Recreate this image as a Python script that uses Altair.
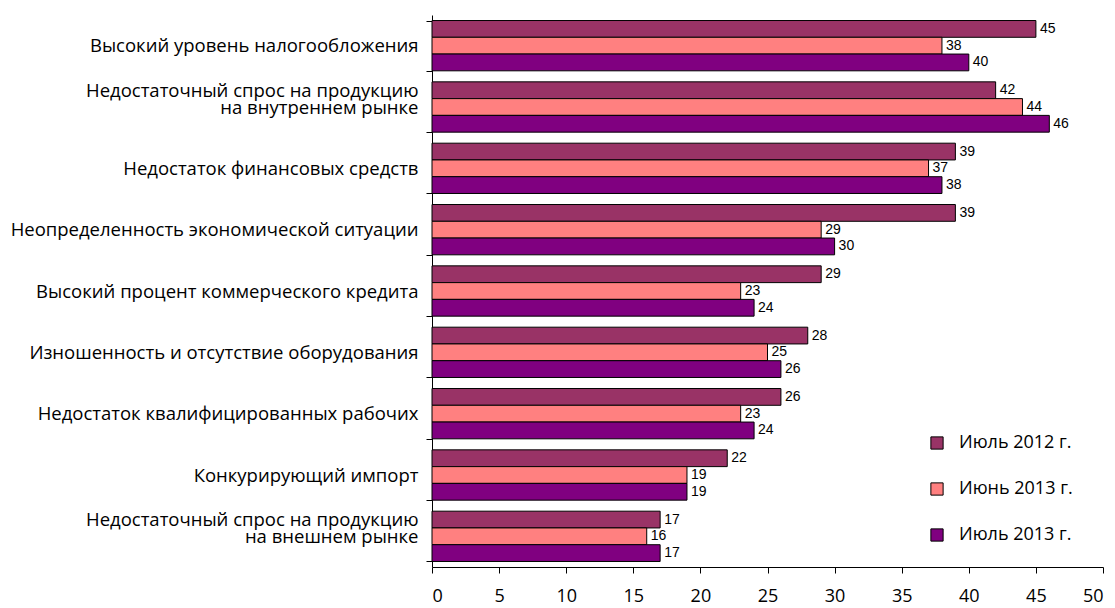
import altair as alt
import pandas as pd

categories = [
    "Высокий уровень налогообложения",
    "Недостаточный спрос на продукцию|на внутреннем рынке",
    "Недостаток финансовых средств",
    "Неопределенность экономической ситуации",
    "Высокий процент коммерческого кредита",
    "Изношенность и отсутствие оборудования",
    "Недостаток квалифицированных рабочих",
    "Конкурирующий импорт",
    "Недостаточный спрос на продукцию|на внешнем рынке",
]
series = ["Июль 2012 г.", "Июнь 2013 г.", "Июль 2013 г."]
v_jul2012 = [45, 42, 39, 39, 29, 28, 26, 22, 17]
v_jun2013 = [38, 44, 37, 29, 23, 25, 23, 19, 16]
v_jul2013 = [40, 46, 38, 30, 24, 26, 24, 19, 17]
colors = ["#993366", "#FF8080", "#800080"]

rows = []
for s, vals in zip(series, [v_jul2012, v_jun2013, v_jul2013]):
    for c, v in zip(categories, vals):
        rows.append({"cat": c, "series": s, "value": v})
df = pd.DataFrame(rows)

FONT = "Open Sans"
NB = "\u00a0"

label_expr = ("indexof(datum.label, '|') >= 0 ? "
              "[split(datum.label, '|')[0], '" + NB + "', split(datum.label, '|')[1]] : "
              "['" + NB + "', datum.label]")

y_enc = alt.Y("cat:N", sort=categories, title=None,
              scale=alt.Scale(paddingInner=0.18, paddingOuter=0.09),
              axis=alt.Axis(labelExpr=label_expr, labelFontSize=18.5,
                            labelFont=FONT, labelColor="#000", labelPadding=8,
                            labelOffset=-16.5, labelLineHeight=16.5,
                            tickBand="extent", tickSize=6, tickColor="#000",
                            domainColor="#000", labelLimit=500))
x_enc = alt.X("value:Q", title=None,
              scale=alt.Scale(domain=[0, 50], nice=False),
              axis=alt.Axis(values=list(range(0, 51, 5)), grid=False, labelFontSize=18,
                            labelFont=FONT, labelColor="#000", labelPadding=14,
                            tickSize=6, tickColor="#000", domainColor="#000"))

base = alt.Chart(df).encode(
    y=y_enc,
    yOffset=alt.YOffset("series:N", sort=series),
)

bars = base.mark_bar(stroke="#000", strokeWidth=1).encode(
    x=x_enc,
    color=alt.Color("series:N", sort=series,
                    scale=alt.Scale(domain=series, range=colors),
                    legend=alt.Legend(title=None, orient="none", legendX=496, legendY=419,
                                      symbolType="square", symbolSize=150,
                                      symbolStrokeColor="#000", symbolStrokeWidth=1,
                                      labelFontSize=18, labelFont=FONT, labelColor="#000",
                                      rowPadding=28, symbolOffset=0, labelOffset=13)),
)

labels = base.mark_text(align="left", dx=4, fontSize=14, font="Liberation Sans",
                        color="#000").encode(
    x="value:Q",
    text="value:Q",
)

chart = (bars + labels).properties(
    width=671, height=552,
    autosize=alt.AutoSizeParams(type="none"),
    padding={"left": 424, "top": 7, "right": 4, "bottom": 41},
).configure_view(stroke=None)

chart.save("out.html", embed_options={"renderer": "svg", "actions": False})
